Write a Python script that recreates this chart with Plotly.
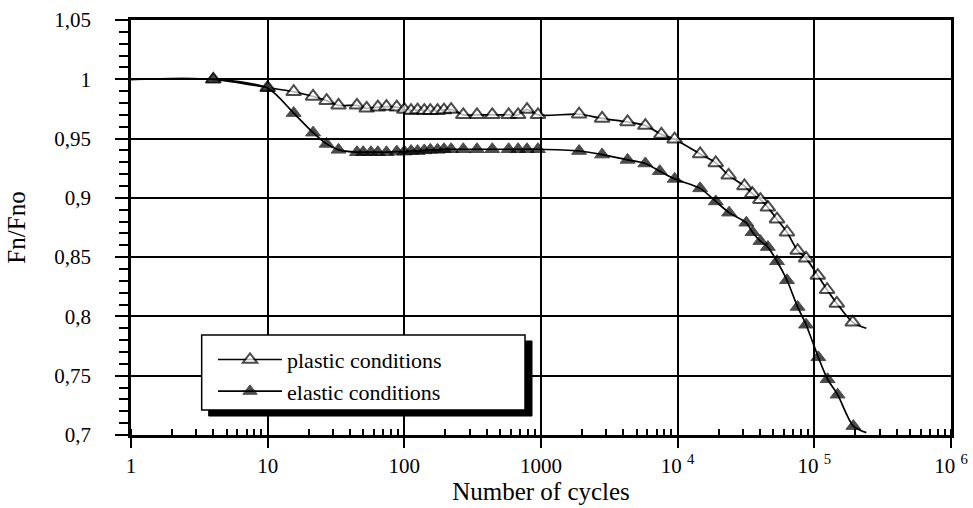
import plotly.graph_objects as go

# ---- data ----
cycles_plastic = [1, 4, 10, 15.5, 21.5, 27, 33, 45, 53, 64, 74, 88, 100, 112, 125, 140, 155,
                  175, 195, 220, 270, 340, 440, 580, 680, 790, 950, 1900, 2800, 4300, 5800,
                  7600, 9500, 14600, 19000, 23600, 30800, 35200, 40300, 45700, 53300, 63100,
                  75500, 87000, 106000, 124000, 146000, 191000, 240000]
fn_plastic = [1.0, 1.0, 0.993, 0.9895, 0.9855, 0.982, 0.978, 0.978, 0.9755, 0.9765, 0.977,
              0.9765, 0.9745, 0.9735, 0.974, 0.9735, 0.9735, 0.9735, 0.974, 0.9745, 0.970,
              0.970, 0.970, 0.970, 0.970, 0.9745, 0.970, 0.9705, 0.967, 0.964, 0.961, 0.9535,
              0.9495, 0.937, 0.9295, 0.919, 0.910, 0.9035, 0.8985, 0.892, 0.882, 0.871,
              0.8555, 0.849, 0.8345, 0.8225, 0.811, 0.795, 0.790]

cycles_elastic = [1, 4, 10, 15.5, 21.5, 27, 33, 45, 50, 57, 64, 74, 88, 100, 112, 125, 140,
                  155, 175, 195, 220, 270, 340, 440, 580, 680, 790, 950, 1900, 2800, 4300,
                  5800, 7400, 9500, 14600, 19000, 23800, 31800, 35300, 40300, 45700, 53300,
                  63100, 75500, 87000, 107000, 125000, 148000, 193000, 240000]
fn_elastic = [1.0, 1.0, 0.9925, 0.9715, 0.955, 0.9455, 0.9405, 0.9385, 0.9385, 0.9385, 0.9385,
              0.9385, 0.939, 0.939, 0.9395, 0.9395, 0.940, 0.9405, 0.9405, 0.941, 0.941, 0.941,
              0.941, 0.941, 0.941, 0.941, 0.941, 0.941, 0.9395, 0.9365, 0.932, 0.929, 0.9225,
              0.916, 0.908, 0.897, 0.8875, 0.879, 0.871, 0.8635, 0.8585, 0.8465, 0.8305,
              0.808, 0.793, 0.7655, 0.747, 0.734, 0.7075, 0.702]

x_tickvals = [1, 10, 100, 1000, 1e4, 1e5, 1e6]
x_ticktext = ["1", "10", "100", "1000", "10 <sup>4</sup>", "10 <sup>5</sup>", "10 <sup>6</sup>"]
y_tickvals = [0.7, 0.75, 0.8, 0.85, 0.9, 0.95, 1.0, 1.05]
y_ticktext = ["0,7", "0,75", "0,8", "0,85", "0,9", "0,95", "1", "1,05"]

series_names = ["plastic conditions", "elastic conditions"]


def sizes(n, s):
    # first point (at the axis) and last point (curve end) carry no marker
    return [0] + [s] * (n - 2) + [0]


fig = go.Figure()
fig.add_trace(go.Scatter(
    x=cycles_plastic, y=fn_plastic, name=series_names[0], mode="lines+markers",
    line=dict(color="black", width=1.7, shape="spline", smoothing=0.8),
    marker=dict(symbol="triangle-up", color="white", size=sizes(len(cycles_plastic), 13),
                line=dict(color="black", width=2)),
))
fig.add_trace(go.Scatter(
    x=cycles_elastic, y=fn_elastic, name=series_names[1], mode="lines+markers",
    line=dict(color="black", width=1.7, shape="spline", smoothing=0.8),
    marker=dict(symbol="triangle-up", color="black", size=sizes(len(cycles_elastic), 13),
                line=dict(color="black", width=1)),
))

# legend frame with drop shadow (paper coordinates of plot area)
lx0, lx1, ly0, ly1 = 0.0862, 0.4805, 0.0602, 0.241
sh_x, sh_y = 7 / 820, 6 / 415
fig.add_shape(type="rect", xref="paper", yref="paper", layer="above",
              x0=lx0 + sh_x, x1=lx1 + sh_x, y0=ly0 - sh_y, y1=ly1 - sh_y,
              fillcolor="black", line=dict(color="black", width=1))
fig.add_shape(type="rect", xref="paper", yref="paper", layer="above",
              x0=lx0, x1=lx1, y0=ly0, y1=ly1,
              fillcolor="white", line=dict(color="black", width=1.5))

fig.update_layout(
    width=973, height=508,
    margin=dict(l=131, r=22, t=20, b=73, autoexpand=False),
    paper_bgcolor="white", plot_bgcolor="white",
    font=dict(family="Liberation Serif", size=21, color="black"),
    separators=", ",
    showlegend=True,
    legend=dict(x=0.10, y=0.232, xanchor="left", yanchor="top",
                bgcolor="rgba(0,0,0,0)", borderwidth=0, itemwidth=64,
                font=dict(size=22), tracegroupgap=0),
    xaxis=dict(
        type="log", range=[0, 6], automargin=False,
        tickmode="array", tickvals=x_tickvals, ticktext=x_ticktext,
        ticks="outside", ticklen=10, tickwidth=2, tickcolor="black",
        showline=True, linewidth=2.5, linecolor="black", mirror=True,
        showgrid=True, gridcolor="black", gridwidth=1.5,
        minor=dict(ticks="inside", ticklen=6, tickwidth=1.5, tickcolor="black",
                   dtick="D1", showgrid=False),
        title=dict(text="Number of cycles", standoff=6),
        zeroline=False,
    ),
    yaxis=dict(
        range=[0.7, 1.05], automargin=False,
        tickmode="array", tickvals=y_tickvals, ticktext=y_ticktext,
        ticks="outside", ticklen=13, tickwidth=2, tickcolor="black",
        showline=True, linewidth=2.5, linecolor="black", mirror=True,
        showgrid=True, gridcolor="black", gridwidth=1.5,
        minor=dict(ticks="outside", ticklen=9, tickwidth=1.5, tickcolor="black",
                   tick0=0.7, dtick=0.01, showgrid=False),
        ticklabelstandoff=20,
        title=dict(text="Fn/Fno", standoff=22),
        zeroline=False,
    ),
    yaxis2=dict(
        range=[0.7, 1.05], overlaying="y", side="left", automargin=False,
        tickmode="linear", tick0=0.7, dtick=0.01,
        ticks="inside", ticklen=4, tickwidth=1.5, tickcolor="black",
        showticklabels=False, showgrid=False, showline=False, zeroline=False,
    ),
)

fig.write_html("out.html")
